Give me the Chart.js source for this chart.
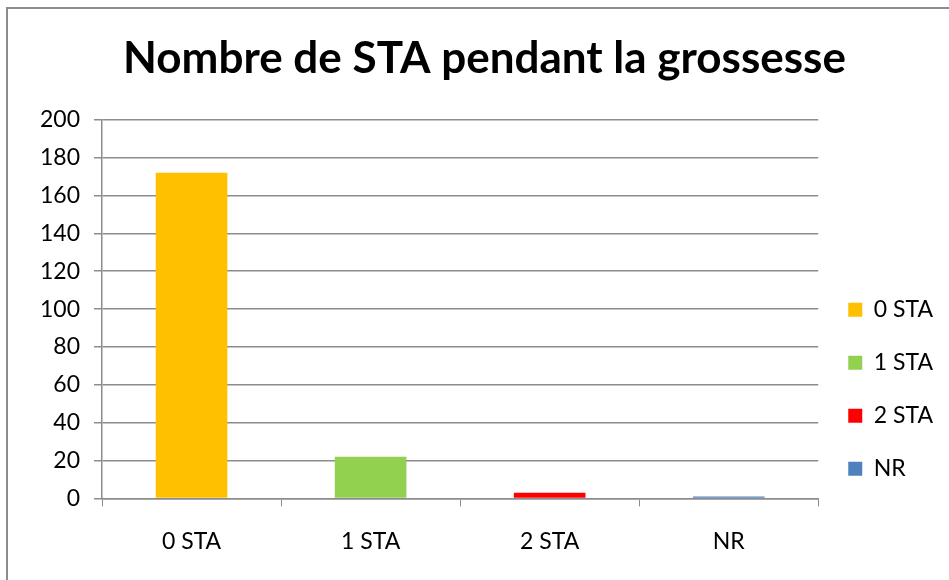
<!DOCTYPE html>
<html>
<head>
<meta charset="utf-8">
<script src="https://cdn.jsdelivr.net/npm/chart.js@4.4.0/dist/chart.umd.min.js"></script>
<style>
  html, body { margin: 0; padding: 0; background: #fff; overflow: hidden; }
  #frame { position: absolute; left: 6px; top: 7px; width: 1000px; height: 1000px; border: 2px solid #8c8c8c; }
  #chartDiv { position: absolute; left: 0; top: 0; width: 949px; height: 580px; }
</style>
</head>
<body>
<div id="frame"></div>
<div id="chartDiv"><canvas id="myChart"></canvas></div>
<script>
const canvas = document.getElementById('myChart');

Chart.defaults.font.family = 'Lato';
Chart.defaults.color = '#000';

const chartName = 'Nombre de STA pendant la grossesse';
const labels = ['0 STA', '1 STA', '2 STA', 'NR'];
const data = [172, 22, 3, 1];
const colors = ['#FFC000', '#92D050', '#FF0000', '#4F81BD'];
const yTicks = [0, 20, 40, 60, 80, 100, 120, 140, 160, 180, 200];

const gridColor = '#8c8c8c';

const dataConf = {
    labels: labels,
    datasets: [{
        label: chartName,
        data: data,
        backgroundColor: colors,
        borderWidth: 0,
        categoryPercentage: 1,
        barPercentage: 0.4
    }]
};

const config = {
    type: 'bar',
    data: dataConf,
    options: {
        responsive: true,
        maintainAspectRatio: false,
        animation: false,
        layout: {
            padding: { left: 26, right: 6, top: 0, bottom: 4 }
        },
        plugins: {
            title: {
                display: true,
                text: chartName,
                font: { size: 44, weight: 'bold' },
                padding: { top: 32, bottom: 35 }
            },
            legend: {
                position: 'right',
                align: 'center',
                // empty title only pushes the items down a bit
                title: {
                    display: true,
                    text: '',
                    padding: { top: 188, bottom: 0 }
                },
                labels: {
                    boxWidth: 14,
                    boxHeight: 14,
                    padding: 30,
                    font: { size: 23 },
                    generateLabels: chart => labels.map((l, i) => ({
                        text: l,
                        fillStyle: colors[i],
                        strokeStyle: colors[i],
                        lineWidth: 0,
                        hidden: false,
                        index: i
                    }))
                }
            },
            tooltip: { enabled: false }
        },
        scales: {
            x: {
                grid: {
                    offset: true,
                    drawOnChartArea: false,
                    drawTicks: true,
                    tickLength: 8,
                    color: gridColor
                },
                border: { color: gridColor, width: 1.5 },
                ticks: {
                    font: { size: 23 },
                    padding: 21
                }
            },
            y: {
                min: 0,
                max: 200,
                afterBuildTicks: scale => {
                    scale.ticks = yTicks.map(v => ({ value: v }));
                },
                grid: {
                    color: gridColor,
                    lineWidth: 1.5,
                    tickLength: 8
                },
                border: { color: gridColor, width: 1.5 },
                ticks: {
                    font: { size: 23 },
                    padding: 14
                }
            }
        }
    }
};

const myChart = new Chart(canvas, config);
</script>
</body>
</html>
